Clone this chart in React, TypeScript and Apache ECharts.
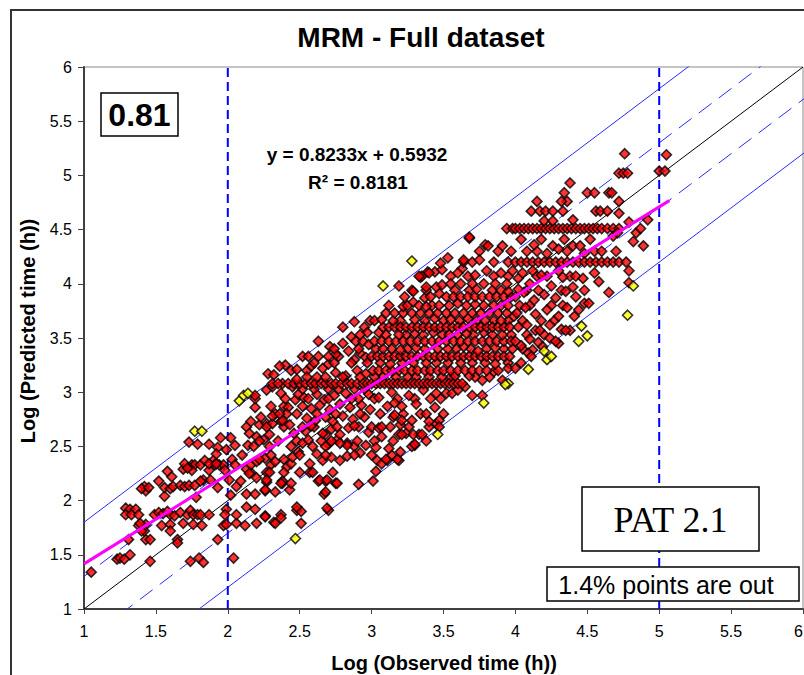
import React, { useEffect, useRef } from "react";
import * as echarts from "echarts";

// ---------- DATA ----------
const xTickValues = [1, 1.5, 2, 2.5, 3, 3.5, 4, 4.5, 5, 5.5, 6];
const yTickValues = [1, 1.5, 2, 2.5, 3, 3.5, 4, 4.5, 5, 5.5, 6];
const axisRange = [1, 6];
const dashedBandOffsets = [0.3, -0.3];
const solidBandOffsets = [0.8, -0.8];
const verticalLinesX = [2, 5];
const trendSlope = 0.8233;
const trendIntercept = 0.5932;
const trendXRange = [1, 5.07];

const redLow: number[][] = [
  [1.05,1.34],[1.23,1.46],[1.25,1.47],[1.28,1.46],[1.32,1.50],[1.46,1.44],[1.74,1.44],[1.80,1.47],[1.83,1.43],
  [1.31,1.64],[1.43,1.64],[1.46,1.64],[1.65,1.64],[1.65,1.61],[1.93,1.64],
  [1.38,1.77],[1.43,1.78],[1.42,1.72],[1.40,1.72],[1.39,1.79],[1.54,1.77],[1.60,1.78],[1.60,1.72],[1.69,1.79],[1.76,1.78],[1.82,1.77],[1.97,1.77],[1.99,1.78],
  [1.29,1.93],[1.32,1.92],[1.36,1.92],[1.29,1.87],[1.33,1.87],[1.38,1.87],[1.49,1.87],[1.52,1.89],[1.55,1.88],[1.58,1.90],[1.60,1.87],[1.63,1.86],[1.67,1.89],[1.72,1.87],[1.74,1.91],[1.76,1.87],[1.79,1.87],[1.81,1.87],[1.87,1.87],[1.99,1.92],[1.98,1.87],
  [1.78,2.03],[1.56,2.04],[1.42,2.13],[1.43,2.09],[1.40,2.11],[1.45,2.12],[1.56,2.12],[1.60,2.11],[1.62,2.13],[1.67,2.14],[1.70,2.13],[1.73,2.14],[1.77,2.14],[1.83,2.19],[1.88,2.19],[1.93,2.12],[1.61,2.22],[1.81,2.18],[1.52,2.18],
  [1.58,2.27],[1.69,2.29],[1.75,2.33],[1.77,2.33],[1.81,2.33],[1.75,2.28],[1.87,2.28],[1.90,2.37],[1.91,2.33],[1.94,2.33],[1.97,2.33],[1.98,2.28],[1.70,2.34],[1.84,2.37],[1.87,2.34],[1.92,2.34],[1.72,2.30],
  [1.73,2.54],[1.79,2.52],[1.87,2.52],[1.93,2.49],[1.95,2.58],[1.99,2.47],[1.92,2.43],
];

const redMid: number[][] = [
  [2.04,1.47],
  [2.06,1.79],[2.12,1.77],[2.20,1.79],[2.32,1.80],[2.06,1.87],[2.13,1.94],[2.19,1.92],[2.26,1.86],[2.37,1.87],[2.37,1.84],[2.48,1.91],[2.51,1.90],[2.51,1.79],[2.33,1.79],[2.26,1.85],[2.48,1.94],[2.70,1.91],[2.69,1.93],
  [2.02,2.05],[2.06,2.13],[2.13,2.06],[2.19,2.06],[2.26,2.09],[2.33,2.08],[2.38,2.16],[2.43,2.10],[2.09,2.18],[2.16,2.26],[2.01,2.19],[2.27,2.26],[2.38,2.18],[2.27,2.17],[2.26,2.10],[2.37,2.16],[2.44,2.16],[2.67,2.06],[2.68,2.08],[2.63,2.18],[2.68,2.18],[2.75,2.16],[2.91,2.15],[2.64,2.19],[2.69,2.19],[2.76,2.16],
  [2.03,2.38],[2.05,2.33],[2.13,2.29],[2.16,2.33],[2.20,2.36],[2.26,2.39],[2.30,2.33],[2.33,2.36],[2.39,2.38],[2.41,2.31],[2.44,2.34],[2.29,2.26],[2.39,2.26],[2.50,2.26],[2.57,2.26],[2.59,2.26],[2.73,2.26],[2.57,2.34],[2.66,2.37],[2.78,2.37],[2.83,2.41],[2.62,2.43],[2.72,2.40],[2.92,2.44],[2.22,2.38],[2.15,2.25],[2.20,2.21],[2.27,2.19],[2.45,2.40],[2.49,2.45],
  [2.05,2.51],[2.02,2.58],[2.14,2.51],[2.20,2.59],[2.13,2.68],[2.16,2.73],[2.22,2.70],[2.27,2.71],[2.31,2.71],[2.37,2.73],[2.39,2.68],[2.15,2.62],[2.25,2.56],[2.29,2.61],[2.18,2.50],[2.29,2.50],[2.44,2.50],[2.48,2.55],[2.46,2.62],[2.43,2.70],[2.38,2.74],
  [2.52,2.53],[2.59,2.50],[2.65,2.55],[2.70,2.52],[2.76,2.56],[2.83,2.53],[2.88,2.50],[2.96,2.51],[2.68,2.61],[2.78,2.61],[2.91,2.68],[2.83,2.51],[2.68,2.50],[2.78,2.53],
  [2.54,2.64],[2.60,2.68],[2.66,2.62],[2.72,2.66],[2.84,2.67],[2.98,2.63],
  [2.55,2.76],[2.61,2.74],[2.68,2.77],[2.73,2.73],[2.80,2.78],[2.87,2.75],[2.95,2.77],
  [2.19,2.86],[2.23,2.77],[2.30,2.87],[2.33,2.80],[2.39,2.87],[2.42,2.86],[2.31,2.78],[2.41,2.80],[2.47,2.93],[2.49,2.98],[2.19,2.94],
  [2.52,2.87],[2.58,2.85],[2.64,2.88],[2.71,2.84],[2.78,2.89],[2.85,2.86],[2.93,2.88],[2.99,2.84],
  [2.19,2.97],[2.27,3.02],[2.31,3.05],[2.37,2.99],[2.45,3.05],[2.53,2.95],[2.62,2.98],[2.67,2.93],[2.74,2.97],[2.82,2.99],[2.91,2.94],[2.98,2.98],[2.52,3.03],[2.60,3.03],[2.70,3.03],[2.77,3.03],[2.88,3.03],[2.95,3.03],
  [2.28,3.17],[2.32,3.16],[2.38,3.08],[2.31,3.08],[2.35,3.08],[2.42,3.08],[2.46,3.08],[2.50,3.08],[2.54,3.08],[2.58,3.08],[2.61,3.08],[2.65,3.08],[2.68,3.08],[2.72,3.08],[2.75,3.08],[2.79,3.08],[2.83,3.08],[2.86,3.08],[2.90,3.08],[2.94,3.08],[2.97,3.08],
  [2.48,3.12],[2.44,3.20],[2.40,3.25],[2.36,3.24],[2.48,3.21],[2.55,3.20],[2.66,3.22],[2.70,3.26],[2.58,3.24],[2.75,3.18],[2.82,3.15],[2.90,3.20],[2.96,3.17],[2.62,3.14],
  [2.52,3.33],[2.56,3.33],[2.63,3.33],[2.77,3.33],[2.75,3.35],[2.84,3.38],[2.92,3.36],[2.70,3.33],[2.88,3.30],[2.96,3.32],
  [2.63,3.47],[2.71,3.42],[2.86,3.51],[2.89,3.47],[2.94,3.47],[2.80,3.45],[2.98,3.44],
  [2.80,3.60],[2.95,3.60],[2.97,3.55],[2.88,3.65],[2.99,3.66],
];

const redUpper: number[][] = [
  [3.01,2.18],[3.03,2.27],[3.04,2.37],[3.11,2.37],[3.19,2.37],[3.07,2.34],[3.10,2.38],[3.18,2.38],
  [3.03,2.49],[3.12,2.48],[3.20,2.45],[3.30,2.51],[3.28,2.50],[3.30,2.52],
  [3.07,2.59],[3.19,2.61],[3.24,2.62],[3.33,2.61],[3.21,2.61],[3.29,2.61],[3.35,2.61],[3.20,2.70],[3.05,2.67],[3.07,2.68],[3.45,2.71],
  [3.15,2.77],[3.16,2.79],[3.21,2.74],[3.28,2.74],[3.40,2.73],[3.47,2.74],[3.47,2.68],[3.38,2.80],[3.44,2.86],[3.11,2.87],
  [3.16,2.90],[3.21,2.87],[3.31,2.89],[3.41,2.94],[3.05,2.95],[3.14,3.00],[3.26,2.97],[3.36,3.02],[3.45,2.99],[3.52,2.99],[3.56,2.99],[3.70,2.97],[3.77,2.97],[3.65,3.05],[3.60,3.02],[3.77,3.11],[3.91,3.11],[3.85,3.19],
  [3.00,3.08],[3.03,3.08],[3.06,3.08],[3.09,3.08],[3.12,3.08],[3.15,3.08],[3.18,3.08],[3.21,3.08],[3.24,3.08],[3.27,3.08],[3.30,3.08],[3.33,3.08],[3.36,3.08],[3.39,3.08],[3.42,3.08],[3.45,3.08],[3.48,3.08],[3.51,3.08],[3.54,3.08],[3.57,3.08],[3.60,3.08],[3.63,3.08],
  [3.02,3.14],[3.25,3.14],[3.49,3.14],[3.58,3.15],[3.68,3.15],
  [3.01,3.20],[3.05,3.20],[3.10,3.20],[3.14,3.20],[3.19,3.20],[3.23,3.20],[3.28,3.20],[3.32,3.20],[3.37,3.20],[3.41,3.20],[3.46,3.20],[3.50,3.20],[3.55,3.20],[3.60,3.20],[3.65,3.20],[3.70,3.20],[3.75,3.20],[3.80,3.20],[3.88,3.20],[3.95,3.22],
  [3.13,3.26],[3.38,3.27],[3.62,3.27],[3.86,3.26],
  [3.00,3.33],[3.04,3.33],[3.08,3.33],[3.12,3.33],[3.16,3.33],[3.20,3.33],[3.24,3.33],[3.28,3.33],[3.32,3.33],[3.36,3.33],[3.40,3.33],[3.44,3.33],[3.48,3.33],[3.52,3.33],[3.56,3.33],[3.60,3.33],[3.64,3.33],[3.68,3.33],[3.72,3.33],[3.76,3.33],[3.80,3.33],[3.84,3.33],[3.88,3.33],[3.92,3.33],[3.96,3.33],
  [3.08,3.40],[3.31,3.41],[3.53,3.40],[3.74,3.38],[3.98,3.40],[3.20,3.39],[3.64,3.42],[3.86,3.41],
  [3.02,3.47],[3.07,3.47],[3.12,3.47],[3.17,3.47],[3.22,3.47],[3.27,3.47],[3.32,3.47],[3.37,3.47],[3.42,3.47],[3.47,3.47],[3.52,3.47],[3.57,3.47],[3.62,3.47],[3.67,3.47],[3.72,3.47],[3.77,3.47],[3.82,3.47],[3.87,3.47],[3.92,3.47],[3.97,3.47],
  [3.19,3.53],[3.43,3.55],[3.05,3.55],[3.54,3.53],[3.66,3.54],[3.91,3.53],[3.30,3.54],[3.78,3.55],
  [3.08,3.60],[3.12,3.60],[3.16,3.60],[3.20,3.60],[3.24,3.60],[3.28,3.60],[3.32,3.60],[3.36,3.60],[3.40,3.60],[3.44,3.60],[3.48,3.60],[3.52,3.60],[3.56,3.60],[3.60,3.60],[3.64,3.60],[3.68,3.60],[3.72,3.60],[3.76,3.60],[3.80,3.60],[3.84,3.60],[3.88,3.60],[3.92,3.60],[3.96,3.60],
  [3.15,3.66],[3.30,3.67],[3.44,3.68],[3.07,3.67],[3.55,3.67],[3.79,3.66],[3.99,3.70],[3.67,3.68],[3.90,3.66],
  [3.10,3.73],[3.16,3.73],[3.22,3.73],[3.28,3.73],[3.34,3.73],[3.40,3.73],[3.46,3.73],[3.52,3.73],[3.58,3.73],[3.64,3.73],[3.70,3.73],[3.76,3.73],[3.82,3.73],[3.88,3.73],[3.94,3.73],
  [3.22,3.79],[3.25,3.80],[3.29,3.83],[3.33,3.80],[3.38,3.79],[3.47,3.80],[3.60,3.82],[3.85,3.80],[3.72,3.81],[3.95,3.80],
  [3.23,3.88],[3.37,3.87],[3.41,3.88],[3.47,3.91],[3.52,3.88],[3.57,3.88],[3.62,3.88],[3.67,3.88],[3.72,3.88],[3.77,3.88],[3.82,3.88],[3.87,3.88],[3.92,3.88],[3.97,3.88],
  [3.19,3.98],[3.29,3.93],[3.38,3.94],[3.45,3.97],[3.49,3.99],[3.38,3.97],[3.73,3.95],[3.95,3.93],[3.55,4.00],[3.62,4.00],[3.70,4.00],[3.78,4.00],[3.86,4.00],[3.94,4.00],
  [3.34,4.06],[3.44,4.11],[3.39,4.11],[3.35,4.07],[3.33,4.07],[3.40,4.10],[3.49,4.13],[3.63,4.14],[3.72,4.08],[3.60,4.10],[3.80,4.12],[3.90,4.10],[3.98,4.12],
  [3.48,4.19],[3.53,4.24],[3.64,4.20],[3.64,4.22],[3.70,4.20],[3.75,4.22],[3.85,4.20],[3.95,4.20],
  [3.79,4.36],[3.68,4.42],[3.81,4.35],[3.91,4.35],[3.68,4.43],[3.94,4.51],[3.98,4.51],
];

const redHigh: number[][] = [
  [4.00,4.51],[4.03,4.51],[4.06,4.51],[4.09,4.51],[4.12,4.51],[4.15,4.51],[4.18,4.51],[4.21,4.51],[4.24,4.51],[4.27,4.51],[4.30,4.51],[4.33,4.51],[4.36,4.51],[4.39,4.51],[4.42,4.51],[4.45,4.51],[4.48,4.51],[4.51,4.51],[4.54,4.51],[4.57,4.51],[4.60,4.51],[4.64,4.51],[4.68,4.51],[4.72,4.51],
  [4.76,5.20],[5.05,5.19],[5.00,5.04],[5.04,5.04],[4.72,5.02],[4.75,5.02],[4.78,5.02],[4.38,4.93],[4.34,4.84],[4.36,4.76],[4.32,4.76],[4.50,4.84],[4.55,4.84],[4.65,4.84],[4.67,4.84],[4.72,4.76],[4.15,4.76],
  [4.11,4.67],[4.17,4.67],[4.21,4.67],[4.26,4.67],[4.33,4.67],[4.40,4.59],[4.56,4.67],[4.59,4.67],[4.64,4.67],[4.72,4.65],[4.79,4.57],[4.92,4.59],[4.20,4.58],[4.26,4.58],
  [4.04,4.41],[4.13,4.36],[4.18,4.41],[4.26,4.35],[4.34,4.41],[4.40,4.35],[4.45,4.35],[4.52,4.41],[4.68,4.44],[4.71,4.47],[4.82,4.39],[4.84,4.47],[4.89,4.35],[4.87,4.51],[4.08,4.30],[4.22,4.28],[4.30,4.32],[4.48,4.28],[4.60,4.30],
  [4.00,4.20],[4.04,4.20],[4.08,4.20],[4.12,4.20],[4.16,4.20],[4.20,4.20],[4.24,4.20],[4.28,4.20],[4.32,4.20],[4.36,4.20],[4.40,4.20],[4.44,4.20],[4.48,4.20],[4.52,4.20],[4.56,4.20],[4.60,4.20],[4.64,4.20],[4.68,4.20],[4.72,4.20],[4.77,4.20],
  [4.79,4.12],[4.58,4.02],[4.65,3.92],[4.79,4.01],[4.48,3.82],[4.51,3.82],[4.44,3.76],
  [4.02,4.05],[4.10,4.00],[4.18,4.08],[4.25,3.98],[4.33,4.06],[4.40,3.97],[4.47,4.05],[4.55,4.10],[4.05,4.10],[4.12,4.12],[4.30,4.12],
  [4.00,3.88],[4.06,3.92],[4.13,3.85],[4.20,3.90],[4.28,3.87],[4.35,3.93],[4.42,3.88],[4.02,3.95],
  [4.01,3.73],[4.07,3.78],[4.14,3.72],[4.22,3.76],[4.30,3.70],[4.36,3.78],[4.41,3.70],
  [4.02,3.60],[4.08,3.62],[4.14,3.57],[4.17,3.57],[4.24,3.62],[4.32,3.58],[4.38,3.57],[4.35,3.57],
  [4.00,3.47],[4.04,3.43],[4.10,3.49],[4.12,3.39],[4.16,3.46],[4.24,3.50],[4.30,3.45],[4.28,3.47],[4.19,3.42],[4.09,3.36],
  [4.00,3.22],[4.04,3.27],[4.11,3.33],
];

const redFill: number[][] = [
  [2.36,2.80],[2.48,2.80],[2.62,2.80],[2.75,2.80],[2.92,2.80],[3.06,2.80],[3.22,2.80],[3.34,2.80],[3.50,2.80],
  [2.27,2.68],[2.52,2.68],[2.58,2.69],[2.76,2.68],[2.88,2.69],[3.00,2.68],[3.13,2.68],[3.26,2.68],[3.40,2.68],
  [2.22,2.55],[2.35,2.55],[2.56,2.56],[2.72,2.55],[2.90,2.55],[3.02,2.55],[3.15,2.55],[3.38,2.55],
  [2.10,2.42],[2.30,2.42],[2.50,2.42],[2.68,2.42],[2.88,2.42],[3.00,2.42],[3.14,2.42],
  [2.40,2.94],[2.56,2.94],[2.70,2.94],[2.86,2.94],[3.02,2.94],[3.18,2.94],[3.30,2.94],[3.48,2.94],
  [2.55,3.14],[2.68,3.14],[2.80,3.14],[2.92,3.14],[3.08,3.14],[3.17,3.14],[3.31,3.14],[3.40,3.14],[3.55,3.14],[3.72,3.14],[3.82,3.14],
  [2.60,3.27],[2.74,3.27],[2.86,3.27],[2.97,3.27],[3.06,3.27],[3.21,3.27],[3.29,3.27],[3.45,3.27],[3.53,3.27],[3.70,3.27],[3.79,3.27],[3.95,3.27],
  [2.74,3.40],[2.91,3.40],[3.03,3.40],[3.14,3.40],[3.25,3.40],[3.37,3.40],[3.46,3.40],[3.59,3.40],[3.69,3.40],[3.80,3.40],[3.92,3.40],[4.05,3.40],
  [2.92,3.53],[3.10,3.53],[3.24,3.53],[3.36,3.53],[3.49,3.53],[3.60,3.53],[3.71,3.53],[3.84,3.53],[3.97,3.53],[4.08,3.53],[4.20,3.53],
  [3.02,3.66],[3.20,3.66],[3.37,3.66],[3.50,3.66],[3.61,3.66],[3.73,3.66],[3.85,3.66],[3.95,3.66],[4.05,3.66],[4.18,3.66],[4.27,3.66],
  [3.12,3.80],[3.42,3.80],[3.54,3.80],[3.66,3.80],[3.78,3.80],[3.90,3.80],[4.03,3.80],[4.10,3.80],[4.25,3.80],[4.33,3.80],
  [3.28,3.94],[3.58,3.94],[3.68,3.94],[3.84,3.94],[3.90,3.94],[4.08,3.94],[4.16,3.94],[4.32,3.94],[4.48,3.94],
  [3.55,4.07],[3.67,4.07],[3.85,4.07],[3.95,4.07],[4.15,4.07],[4.22,4.07],[4.38,4.07],[4.42,4.07],
  [3.75,4.30],[3.88,4.30],[3.97,4.30],[4.15,4.30],[4.36,4.30],[4.55,4.30],[4.70,4.30],
];

const yellowOut: number[][] = [
  [2.47,1.65],[2.08,2.92],[2.11,2.97],[2.14,2.99],[1.77,2.64],[1.82,2.64],[3.28,4.21],[3.08,3.98],[3.46,2.61],
  [4.82,3.98],[4.78,3.71],[4.46,3.61],[4.50,3.52],[4.44,3.47],[4.20,3.38],[4.22,3.30],[4.25,3.33],[4.09,3.21],
  [3.95,3.08],[3.93,3.07],[3.78,2.90],
];

const titleText = "MRM - Full dataset";
const xAxisTitle = "Log (Observed time (h))";
const yAxisTitle = "Log (Predicted time (h))";
const equationText = "y = 0.8233x + 0.5932";
const r2Text = "R² = 0.8181";
const scoreText = "0.81";
const patText = "PAT 2.1";
const outText = "1.4% points are out";

// ---------- COMPONENT ----------
export default function App() {
  const ref = useRef<HTMLDivElement>(null);

  useEffect(() => {
    if (!ref.current) return;
    const chart = echarts.init(ref.current, undefined, { renderer: "svg" });
    const [lo, hi] = axisRange;
    const sans = "'Liberation Sans', Arial, sans-serif";
    const serif = "'Liberation Serif', 'Times New Roman', serif";

    const bandLine = (off: number, dashed: boolean) => ({
      type: "line",
      data: [[lo - 1, lo - 1 + off], [hi + 1, hi + 1 + off]],
      symbol: "none",
      silent: true,
      clip: true,
      z: 1,
      lineStyle: { color: "#2a2aff", width: 1, type: dashed ? [16, 9] : "solid" },
    });

    const markerStyle = (color: string) => ({
      color,
      borderColor: "#000",
      borderWidth: 1.6,
    });

    const option: any = {
      animation: false,
      backgroundColor: "#fff",
      grid: {
        left: 84,
        top: 67,
        width: 719,
        height: 542,
        show: true,
        borderColor: "#8a8a8a",
        borderWidth: 1,
        containLabel: false,
        outerBoundsMode: "none",
      },
      xAxis: {
        type: "value",
        min: lo,
        max: hi,
        interval: 0.5,
        axisLine: { show: true, lineStyle: { color: "#404040", width: 2 } },
        axisTick: { show: true, length: 5, lineStyle: { color: "#404040", width: 1 } },
        splitLine: { show: false },
        axisLabel: {
          fontSize: 16,
          color: "#000",
          fontFamily: sans,
          margin: 14,
          showMaxLabel: true,
          alignMaxLabel: "right",
          customValues: xTickValues,
        },
      },
      yAxis: {
        type: "value",
        min: lo,
        max: hi,
        interval: 0.5,
        axisLine: { show: true, lineStyle: { color: "#404040", width: 2 } },
        axisTick: { show: true, length: 6, lineStyle: { color: "#404040", width: 1 } },
        splitLine: { show: false },
        axisLabel: {
          fontSize: 16,
          color: "#000",
          fontFamily: sans,
          margin: 12,
          customValues: yTickValues,
        },
      },
      series: [
        {
          type: "line",
          data: [[lo, lo], [hi, hi]],
          symbol: "none",
          silent: true,
          z: 1,
          lineStyle: { color: "#000", width: 1 },
        },
        ...dashedBandOffsets.map((o) => bandLine(o, true)),
        ...solidBandOffsets.map((o) => bandLine(o, false)),
        ...verticalLinesX.map((vx) => ({
          type: "line",
          data: [[vx, lo], [vx, hi]],
          symbol: "none",
          silent: true,
          z: 1,
          lineStyle: { color: "#0000ff", width: 2, type: [9, 5] },
        })),
        {
          type: "scatter",
          data: [...redLow, ...redMid, ...redFill, ...redUpper, ...redHigh],
          symbol: "diamond",
          symbolSize: 10,
          z: 3,
          itemStyle: markerStyle("#ff0000"),
        },
        {
          type: "scatter",
          data: yellowOut,
          symbol: "diamond",
          symbolSize: 10,
          z: 3,
          itemStyle: markerStyle("#ffff00"),
        },
        {
          type: "line",
          data: trendXRange.map((x) => [x, trendSlope * x + trendIntercept]),
          symbol: "none",
          silent: true,
          z: 4,
          lineStyle: { color: "#ff00ff", width: 3 },
        },
      ],
      graphic: [
        {
          type: "polyline",
          z: 100,
          silent: true,
          shape: { points: [[11, 700], [11, 10], [820, 10]] },
          style: { stroke: "#333", lineWidth: 2, fill: null },
        },
        {
          type: "text",
          z: 100,
          x: 421,
          y: 37,
          style: { text: titleText, font: `bold 28px ${sans}`, fill: "#000", align: "center", verticalAlign: "middle" },
        },
        {
          type: "text",
          z: 100,
          x: 444,
          y: 663,
          style: { text: xAxisTitle, font: `bold 20px ${sans}`, fill: "#000", align: "center", verticalAlign: "middle" },
        },
        {
          type: "text",
          z: 100,
          x: 28,
          y: 331,
          rotation: Math.PI / 2,
          style: { text: yAxisTitle, font: `bold 20px ${sans}`, fill: "#000", align: "center", verticalAlign: "middle" },
        },
        {
          type: "text",
          z: 100,
          x: 357,
          y: 154,
          style: { text: equationText, font: `bold 19px ${sans}`, fill: "#000", align: "center", verticalAlign: "middle" },
        },
        {
          type: "text",
          z: 100,
          x: 358,
          y: 182,
          style: { text: r2Text, font: `bold 19px ${sans}`, fill: "#000", align: "center", verticalAlign: "middle" },
        },
        {
          type: "rect",
          z: 100,
          shape: { x: 101, y: 93, width: 77, height: 43 },
          style: { fill: "#fff", stroke: "#000", lineWidth: 1.5 },
        },
        {
          type: "text",
          z: 101,
          x: 139.5,
          y: 115,
          style: { text: scoreText, font: `bold 32px ${sans}`, fill: "#000", align: "center", verticalAlign: "middle" },
        },
        {
          type: "rect",
          z: 100,
          shape: { x: 582, y: 487, width: 177, height: 64 },
          style: { fill: "#fff", stroke: "#000", lineWidth: 1.5 },
        },
        {
          type: "text",
          z: 101,
          x: 670.5,
          y: 520,
          style: { text: patText, font: `36px ${serif}`, fill: "#000", align: "center", verticalAlign: "middle" },
        },
        {
          type: "rect",
          z: 100,
          shape: { x: 547, y: 567, width: 252, height: 34 },
          style: { fill: "#fff", stroke: "#000", lineWidth: 1.5 },
        },
        {
          type: "text",
          z: 101,
          x: 666,
          y: 585,
          style: { text: outText, font: `25px ${sans}`, fill: "#000", align: "center", verticalAlign: "middle" },
        },
      ],
    };

    chart.setOption(option);
    return () => chart.dispose();
  }, []);

  return (
    <div
      ref={ref}
      style={{ position: "absolute", left: 0, top: 0, width: 804, height: 675, background: "#fff" }}
    />
  );
}
